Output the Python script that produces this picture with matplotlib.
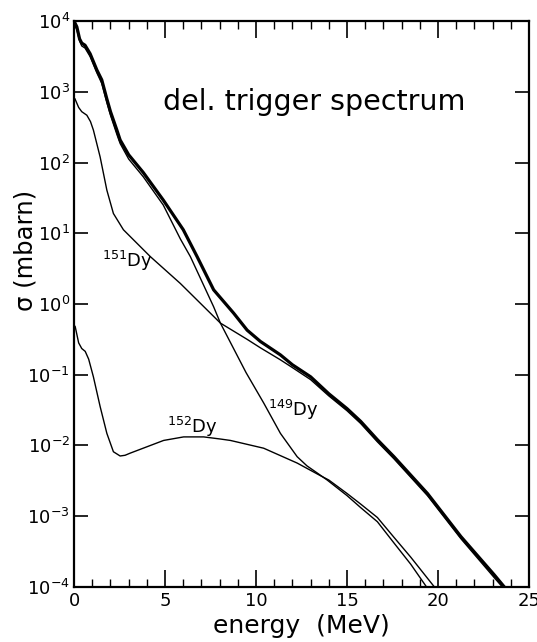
import numpy as np
import matplotlib
matplotlib.use("Agg")
import matplotlib.pyplot as plt
from matplotlib.ticker import MultipleLocator, LogLocator, NullLocator

# values: energy in MeV, log10(sigma / mbarn)
e_total = [0.0, 0.15, 0.3, 0.42, 0.6, 0.88, 1.25, 1.52, 1.8, 2.0, 2.35, 2.53, 3.0, 3.8,
           4.9, 6.0, 6.76, 7.67, 8.77, 9.51, 10.24, 11.34, 12.0, 13.0, 14.0, 15.0,
           15.75, 16.67, 17.58, 19.42, 21.26, 23.09, 23.8]
lg_total = [4.0, 3.92, 3.75, 3.69, 3.66, 3.54, 3.31, 3.17, 2.90, 2.72, 2.46, 2.32, 2.11, 1.86,
            1.47, 1.05, 0.67, 0.20, -0.13, -0.37, -0.53, -0.72, -0.86, -1.03, -1.27, -1.48,
            -1.66, -1.92, -2.16, -2.68, -3.29, -3.83, -4.05]

e_149 = [0.0, 0.15, 0.3, 0.42, 0.6, 0.88, 1.25, 1.52, 1.8, 2.0, 2.35, 2.53, 3.0, 3.8,
         4.9, 5.84, 6.39, 7.67, 8.04, 9.45, 10.42, 11.34, 12.26, 12.8, 13.36, 13.91, 15.0,
         15.75, 16.67, 17.58, 18.5, 19.5]
lg_149 = [3.96, 3.88, 3.72, 3.65, 3.62, 3.50, 3.27, 3.12, 2.85, 2.67, 2.40, 2.27, 2.05, 1.80,
          1.40, 0.92, 0.67, -0.04, -0.27, -0.97, -1.40, -1.83, -2.16, -2.29, -2.39, -2.49, -2.71,
          -2.88, -3.08, -3.38, -3.68, -4.05]

e_151 = [0.05, 0.25, 0.42, 0.7, 0.9, 1.06, 1.43, 1.8, 2.16, 2.71, 3.45, 4.19, 5.84, 8.04,
         9.51, 10.24, 11.34, 12.0, 13.0, 14.0, 15.0, 15.75, 16.67, 17.58, 19.42, 21.26,
         23.09, 23.7]
lg_151 = [2.90, 2.78, 2.72, 2.67, 2.58, 2.46, 2.08, 1.61, 1.28, 1.05, 0.86, 0.67, 0.29, -0.27,
          -0.50, -0.62, -0.79, -0.90, -1.07, -1.30, -1.51, -1.69, -1.95, -2.19, -2.71, -3.32,
          -3.87, -4.05]

e_152 = [0.0, 0.06, 0.25, 0.42, 0.61, 0.8, 1.06, 1.43, 1.8, 2.16, 2.53, 2.8, 3.08, 4.0,
         4.92, 6.02, 7.12, 8.04, 8.59, 10.42, 12.26, 13.55, 14.0, 15.0, 15.75, 16.67,
         17.58, 18.5, 19.95]
lg_152 = [-0.30, -0.32, -0.55, -0.63, -0.67, -0.78, -1.03, -1.45, -1.83, -2.09, -2.15, -2.14,
          -2.11, -2.02, -1.93, -1.88, -1.88, -1.91, -1.93, -2.04, -2.25, -2.43, -2.49, -2.68,
          -2.83, -3.02, -3.30, -3.58, -4.05]

fig = plt.figure(figsize=(5.37, 6.42), dpi=100)
ax = fig.add_axes([0.138, 0.086, 0.847, 0.881])

ax.plot(e_total, 10 ** np.array(lg_total), color='k', lw=2.3)
ax.plot(e_149, 10 ** np.array(lg_149), color='k', lw=1.0)
ax.plot(e_151, 10 ** np.array(lg_151), color='k', lw=1.0)
ax.plot(e_152, 10 ** np.array(lg_152), color='k', lw=1.0)

ax.set_yscale('log')
ax.set_xlim(0, 25)
ax.set_ylim(1e-4, 1e4)

ax.xaxis.set_major_locator(MultipleLocator(5))
ax.xaxis.set_minor_locator(MultipleLocator(1))
ax.yaxis.set_major_locator(LogLocator(base=10, numticks=20))
ax.yaxis.set_minor_locator(NullLocator())

ax.tick_params(axis='x', which='major', direction='in', length=12, width=1.2,
               top=True, labelsize=13, pad=4)
ax.tick_params(axis='x', which='minor', direction='in', length=6, width=1.0, top=True)
ax.tick_params(axis='y', which='major', direction='in', length=10, width=1.2,
               right=True, labelsize=13, pad=3)
for s in ax.spines.values():
    s.set_linewidth(1.6)

ax.set_xlabel('energy  (MeV)', fontsize=18)
ax.xaxis.set_label_coords(0.5, -0.081)
ax.xaxis.label.set_va('baseline')
ax.set_ylabel('σ (mbarn)', fontsize=17.5)
ax.yaxis.set_label_coords(-0.08, 0.594)

ax.text(0.527, 0.857, 'del. trigger spectrum', transform=ax.transAxes,
        ha='center', va='center', fontsize=20.5)
ax.text(1.54, 3.3, r'$^{151}$Dy', fontsize=13, va='baseline')
ax.text(5.12, 0.0148, r'$^{152}$Dy', fontsize=13, va='baseline')
ax.text(10.68, 0.0257, r'$^{149}$Dy', fontsize=13, va='baseline')

fig.savefig('out.png', dpi=100)
